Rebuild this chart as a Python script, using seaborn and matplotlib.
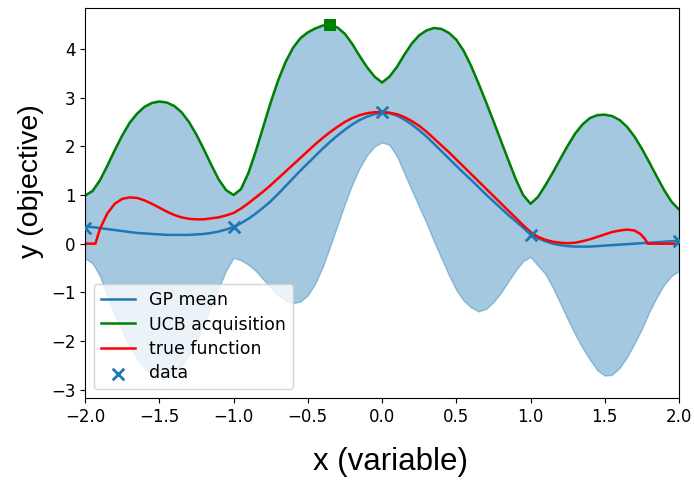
import numpy as np
import seaborn as sns
import matplotlib.pyplot as plt

# GP evaluated on a grid from -2 to 2 (step 0.05)
x_grid = np.round(np.linspace(-2, 2, 81), 2)

gp_mean = [0.35, 0.34, 0.32, 0.30, 0.28, 0.26, 0.24, 0.22, 0.21, 0.20,
           0.19, 0.18, 0.18, 0.18, 0.18, 0.19, 0.20, 0.22, 0.25, 0.29,
           0.34, 0.42, 0.51, 0.62, 0.74, 0.87, 1.02, 1.18, 1.34, 1.50,
           1.65, 1.80, 1.95, 2.09, 2.22, 2.34, 2.45, 2.54, 2.61, 2.66,
           2.69, 2.68, 2.63, 2.55, 2.45, 2.33, 2.20, 2.05, 1.90, 1.75,
           1.60, 1.45, 1.31, 1.16, 1.01, 0.87, 0.73, 0.59, 0.46, 0.33,
           0.20, 0.11, 0.05, 0.00, -0.03, -0.05, -0.06, -0.06, -0.06, -0.05,
           -0.04, -0.03, -0.02, -0.01, 0.00, 0.01, 0.02, 0.03, 0.04, 0.05,
           0.06]

ucb = [0.99, 1.08, 1.30, 1.60, 1.92, 2.22, 2.48, 2.67, 2.81, 2.89,
       2.92, 2.90, 2.83, 2.70, 2.50, 2.24, 1.94, 1.62, 1.32, 1.10,
       1.00, 1.12, 1.45, 1.90, 2.40, 2.90, 3.35, 3.73, 4.02, 4.22,
       4.34, 4.42, 4.48, 4.49, 4.44, 4.31, 4.10, 3.85, 3.62, 3.43,
       3.31, 3.43, 3.63, 3.88, 4.11, 4.28, 4.38, 4.43, 4.41, 4.33,
       4.19, 3.96, 3.65, 3.29, 2.91, 2.52, 2.12, 1.72, 1.33, 1.00,
       0.82, 0.96, 1.20, 1.46, 1.74, 2.01, 2.26, 2.45, 2.58, 2.64,
       2.65, 2.62, 2.54, 2.40, 2.20, 1.95, 1.67, 1.38, 1.10, 0.86,
       0.70]

band_low = [-0.30, -0.40, -0.66, -1.06, -1.45, -1.80, -2.11, -2.36, -2.55, -2.67,
            -2.74, -2.74, -2.66, -2.51, -2.29, -2.00, -1.66, -1.28, -0.91, -0.55,
            -0.29, -0.34, -0.43, -0.56, -0.73, -0.90, -1.06, -1.17, -1.22, -1.19,
            -1.06, -0.82, -0.48, -0.06, 0.38, 0.82, 1.22, 1.56, 1.82, 2.00,
            2.08, 2.03, 1.80, 1.45, 1.10, 0.76, 0.42, 0.05, -0.30, -0.64,
            -0.95, -1.17, -1.31, -1.39, -1.34, -1.20, -1.01, -0.78, -0.55, -0.36,
            -0.27, -0.45, -0.62, -0.90, -1.22, -1.55, -1.86, -2.14, -2.38, -2.60,
            -2.71, -2.69, -2.55, -2.33, -2.05, -1.75, -1.40, -1.10, -0.84, -0.66,
            -0.56]

true_x = [-2.00, -1.93, -1.90, -1.85, -1.80, -1.75, -1.70, -1.65, -1.60, -1.55,
          -1.50, -1.45, -1.40, -1.35, -1.30, -1.25, -1.20, -1.15, -1.10, -1.05,
          -1.00, -0.95, -0.90, -0.85, -0.80, -0.75, -0.70, -0.65, -0.60, -0.55,
          -0.50, -0.45, -0.40, -0.35, -0.30, -0.25, -0.20, -0.15, -0.10, -0.05,
          0.00, 0.05, 0.10, 0.15, 0.20, 0.25, 0.30, 0.35, 0.40, 0.45,
          0.50, 0.55, 0.60, 0.65, 0.70, 0.75, 0.80, 0.85, 0.90, 0.95,
          1.00, 1.05, 1.10, 1.15, 1.20, 1.25, 1.30, 1.35, 1.40, 1.45,
          1.50, 1.55, 1.60, 1.65, 1.70, 1.74, 1.77, 1.79, 2.00]
true_y = [0.00, 0.00, 0.30, 0.62, 0.82, 0.92, 0.95, 0.94, 0.89, 0.82,
          0.74, 0.66, 0.59, 0.54, 0.51, 0.50, 0.50, 0.52, 0.54, 0.58,
          0.63, 0.72, 0.83, 0.95, 1.07, 1.20, 1.34, 1.48, 1.62, 1.76,
          1.90, 2.04, 2.17, 2.29, 2.40, 2.50, 2.58, 2.64, 2.68, 2.70,
          2.70, 2.69, 2.66, 2.60, 2.52, 2.42, 2.30, 2.16, 2.02, 1.88,
          1.73, 1.58, 1.43, 1.28, 1.13, 0.98, 0.83, 0.68, 0.53, 0.38,
          0.24, 0.14, 0.08, 0.04, 0.02, 0.01, 0.02, 0.05, 0.09, 0.14,
          0.19, 0.24, 0.27, 0.29, 0.27, 0.20, 0.10, 0.00, 0.00]

data_x = [-2.0, -1.0, 0.0, 1.0, 2.0]
data_y = [0.33, 0.35, 2.70, 0.18, 0.06]

fig = plt.figure(figsize=(6.94, 4.80), dpi=100)
ax = fig.add_axes([0.1225, 0.1708, 0.8559, 0.8125])

ax.fill_between(x_grid, band_low, ucb, color="C0", alpha=0.4, linewidth=1)
sns.lineplot(x=x_grid, y=gp_mean, color="C0", linewidth=1.8, label="GP mean", ax=ax)
sns.lineplot(x=x_grid, y=ucb, color="green", linewidth=1.8, label="UCB acquisition", ax=ax)
sns.lineplot(x=true_x, y=true_y, color="red", linewidth=1.8, label="true function", ax=ax)
sns.scatterplot(x=data_x, y=data_y, marker="x", s=70, color="C0", linewidth=2,
                label="data", ax=ax, zorder=3)

# next query point = max of the acquisition
best = int(np.argmax(ucb))
sns.scatterplot(x=[x_grid[best]], y=[ucb[best]], marker="s", s=85, color="green",
                edgecolor="green", linewidth=0, legend=False, ax=ax, zorder=4)

ax.set_xlim(-2, 2)
ax.set_ylim(-3.17, 4.84)
ax.set_xticks(np.arange(-2, 2.01, 0.5))
ax.set_yticks(range(-3, 5))
ax.tick_params(labelsize=12)

ax.set_xlabel("x (variable)", fontsize=22.5, family="Liberation Sans")
ax.set_ylabel("y (objective)", fontsize=20.5, family="Liberation Sans")
ax.xaxis.set_label_coords(0.514, -0.126)
ax.yaxis.set_label_coords(-0.069, 0.555)

ax.legend(loc="lower left", fontsize=12.5, labelspacing=0.37)

fig.savefig("out.png", dpi=100)
